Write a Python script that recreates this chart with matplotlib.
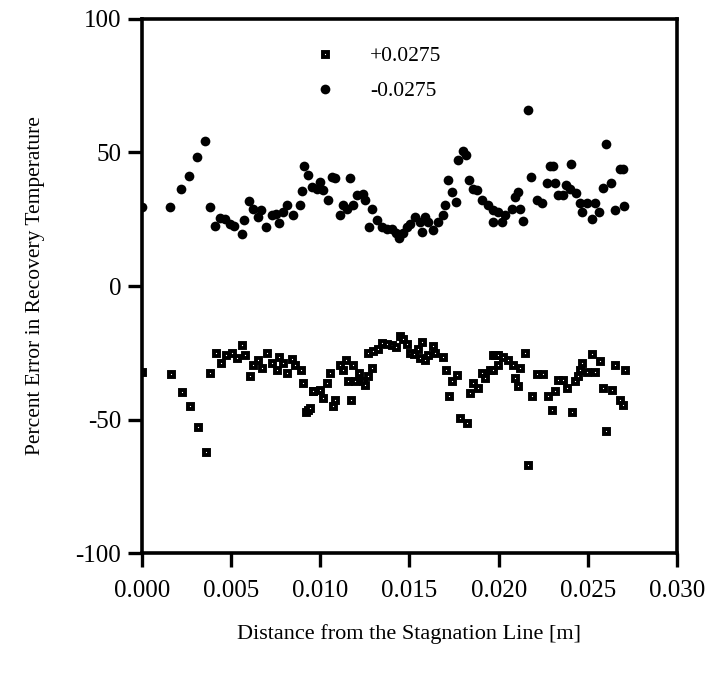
import matplotlib
matplotlib.use("Agg")
import matplotlib.pyplot as plt

# ---- data ----
x_minus = [0.0, 0.00157, 0.00217, 0.00264, 0.00307, 0.00352, 0.00381, 0.00411, 0.00437, 0.00465,
           0.00493, 0.00516, 0.00559, 0.00572, 0.0060, 0.00621, 0.00649, 0.00666, 0.00695, 0.00727,
           0.0075, 0.00768, 0.00793, 0.00811, 0.00848, 0.00886, 0.00899, 0.00908, 0.00933, 0.00951,
           0.0098, 0.00998, 0.01017, 0.01045, 0.01064, 0.01082, 0.0111, 0.01129, 0.01148, 0.01166,
           0.01185, 0.01204, 0.01241, 0.0125, 0.01275, 0.01288, 0.01316, 0.01344, 0.01372, 0.0140,
           0.01424, 0.01443, 0.01465, 0.01484, 0.01503, 0.01531, 0.01559, 0.01568, 0.01587, 0.01605,
           0.01633, 0.01662, 0.0169, 0.01699, 0.01718, 0.01737, 0.01759, 0.01774, 0.01802, 0.01815,
           0.01835, 0.01858, 0.01877, 0.01905, 0.01942, 0.0197, 0.0197, 0.01998, 0.02017, 0.02036,
           0.02073, 0.02092, 0.0211, 0.0212, 0.02138, 0.02166, 0.02181, 0.02213, 0.02241, 0.02269,
           0.02288, 0.02307, 0.02316, 0.02335, 0.02363, 0.02378, 0.024, 0.02406, 0.02434, 0.02456,
           0.02466, 0.02494, 0.02522, 0.0254, 0.02564, 0.02587, 0.026, 0.0263, 0.02652, 0.0268,
           0.02695, 0.02704]
y_minus = [29.6, 29.4, 36.3, 41.3, 48.4, 54.4, 29.4, 22.4, 25.6, 24.9,
           23.4, 22.4, 19.4, 24.6, 31.7, 29.0, 25.9, 28.6, 22.1, 26.5,
           27.1, 23.6, 27.7, 30.2, 26.5, 30.5, 35.6, 44.8, 41.4, 37.0,
           36.4, 38.9, 35.8, 32.1, 40.8, 40.6, 26.5, 30.2, 29.0, 40.6,
           30.2, 34.0, 34.6, 32.1, 22.1, 29.0, 24.6, 22.1, 21.5, 21.2,
           19.9, 17.8, 19.7, 22.1, 23.4, 25.9, 24.0, 20.3, 25.9, 24.0,
           20.9, 24.0, 26.5, 30.2, 39.8, 35.2, 31.5, 47.0, 50.7, 48.9,
           39.8, 36.4, 35.8, 32.1, 30.2, 28.4, 24.0, 27.7, 24.0, 26.5,
           29.0, 33.3, 35.2, 29.0, 24.4, 65.9, 40.8, 32.1, 31.1, 38.5,
           44.8, 44.8, 38.5, 34.0, 34.0, 37.7, 36.4, 45.8, 34.8, 30.9,
           27.7, 30.9, 24.9, 30.9, 27.7, 36.8, 53.0, 38.7, 28.6, 43.9,
           43.9, 30.0]

x_plus = [0.0, 0.00161, 0.00223, 0.00267, 0.00312, 0.00359, 0.00381, 0.00413, 0.00441, 0.00471,
          0.00503, 0.00531, 0.00563, 0.00578, 0.00606, 0.00624, 0.00652, 0.00671, 0.00699, 0.00727,
          0.00755, 0.0077, 0.00792, 0.00815, 0.00843, 0.00858, 0.0089, 0.00905, 0.00918, 0.00929,
          0.00942, 0.00957, 0.0096, 0.00998, 0.01017, 0.01036, 0.01054, 0.0107, 0.01082, 0.0111,
          0.01125, 0.01142, 0.01157, 0.0117, 0.01185, 0.01195, 0.01219, 0.01241, 0.0125, 0.01269,
          0.01269, 0.01288, 0.01297, 0.01325, 0.01344, 0.01372, 0.0140, 0.01424, 0.01447, 0.01465,
          0.01484, 0.01503, 0.01525, 0.01549, 0.01559, 0.01568, 0.01587, 0.01605, 0.0163, 0.01643,
          0.0169, 0.01705, 0.01719, 0.01737, 0.01765, 0.01783, 0.01824, 0.01839, 0.01858, 0.01886,
          0.01905, 0.01923, 0.01951, 0.0197, 0.0197, 0.01979, 0.01998, 0.01998, 0.02026, 0.02054,
          0.02082, 0.02092, 0.0211, 0.0212, 0.02148, 0.02166, 0.02185, 0.02213, 0.0225, 0.02278,
          0.02297, 0.02316, 0.02335, 0.02363, 0.02382, 0.0241, 0.02428, 0.02447, 0.02456, 0.02466,
          0.02494, 0.02522, 0.0254, 0.02568, 0.02587, 0.02602, 0.02634, 0.02652, 0.0268, 0.02695,
          0.02708]
y_plus = [-32.0, -32.8, -39.8, -44.9, -52.7, -62.0, -32.7, -24.9, -28.8, -25.9,
          -24.9, -27.0, -22.0, -25.7, -33.8, -29.5, -27.6, -30.7, -24.9, -28.8,
          -31.6, -26.4, -28.8, -32.6, -27.3, -29.5, -31.6, -36.3, -47.0, -46.3,
          -45.6, -39.4, -39.4, -38.8, -41.9, -36.3, -32.6, -45.0, -42.5, -29.5,
          -31.6, -27.6, -35.7, -42.5, -29.5, -35.7, -32.6, -35.7, -36.9, -33.8,
          -24.9, -30.7, -24.5, -23.6, -21.4, -21.6, -22.0, -22.9, -18.7, -19.9,
          -21.6, -24.9, -25.4, -23.6, -27.0, -20.8, -27.6, -25.7, -22.4, -25.1,
          -26.4, -31.3, -41.3, -35.7, -33.2, -49.4, -51.2, -40.0, -36.3, -38.2,
          -32.6, -34.4, -31.3, -25.7, -31.3, -25.7, -25.7, -29.5, -26.4, -27.6,
          -29.5, -34.4, -37.3, -30.7, -24.9, -67.0, -41.3, -32.8, -32.8, -41.3,
          -46.3, -39.4, -35.3, -35.3, -38.2, -47.3, -35.7, -33.8, -31.3, -28.8,
          -32.3, -25.4, -32.3, -28.2, -38.2, -54.4, -39.0, -29.5, -42.5, -44.4,
          -31.3]

series_labels = ["+0.0275", "-0.0275"]
x_ticks = [0.000, 0.005, 0.010, 0.015, 0.020, 0.025, 0.030]
x_ticklabels = ["0.000", "0.005", "0.010", "0.015", "0.020", "0.025", "0.030"]
y_ticks = [-100, -50, 0, 50, 100]
x_label = "Distance from the Stagnation Line [m]"
y_label = "Percent Error in Recovery Temperature"

# ---- figure ----
plt.rcParams['font.family'] = ['Liberation Serif', 'DejaVu Serif']
plt.rcParams['axes.unicode_minus'] = False
fig = plt.figure(figsize=(7.1, 6.73), dpi=100)
ax = fig.add_axes([0.2, 0.178, 0.7535, 0.794])

h_plus, = ax.plot(x_plus, y_plus, linestyle='none', marker='s', markersize=3.6,
                  markerfacecolor='white', markeredgecolor='black', markeredgewidth=2.8,
                  label=series_labels[0])
h_minus, = ax.plot(x_minus, y_minus, linestyle='none', marker='o', markersize=7.0,
                   markerfacecolor='black', markeredgecolor='black', markeredgewidth=0,
                   label=series_labels[1])

ax.set_xlim(0, 0.030)
ax.set_ylim(-100, 100)
ax.set_xticks(x_ticks)
ax.set_xticklabels(x_ticklabels)
ax.set_yticks(y_ticks)

for s in ax.spines.values():
    s.set_linewidth(2.6)
ax.tick_params(direction='out', length=10, width=2.4, labelsize=18)
ax.tick_params(axis='x', pad=9)
ax.tick_params(axis='y', pad=5)

ax.set_xlabel(x_label, fontsize=16, labelpad=16)
ax.set_ylabel(y_label, fontsize=15.5, labelpad=22)

leg = ax.legend(handles=[h_plus, h_minus], loc='upper left', bbox_to_anchor=(0.285, 0.985),
                frameon=False, fontsize=15.5, handletextpad=1.6, labelspacing=0.7,
                handlelength=1.0, markerscale=1.0)

fig.savefig("out.png", dpi=100)
